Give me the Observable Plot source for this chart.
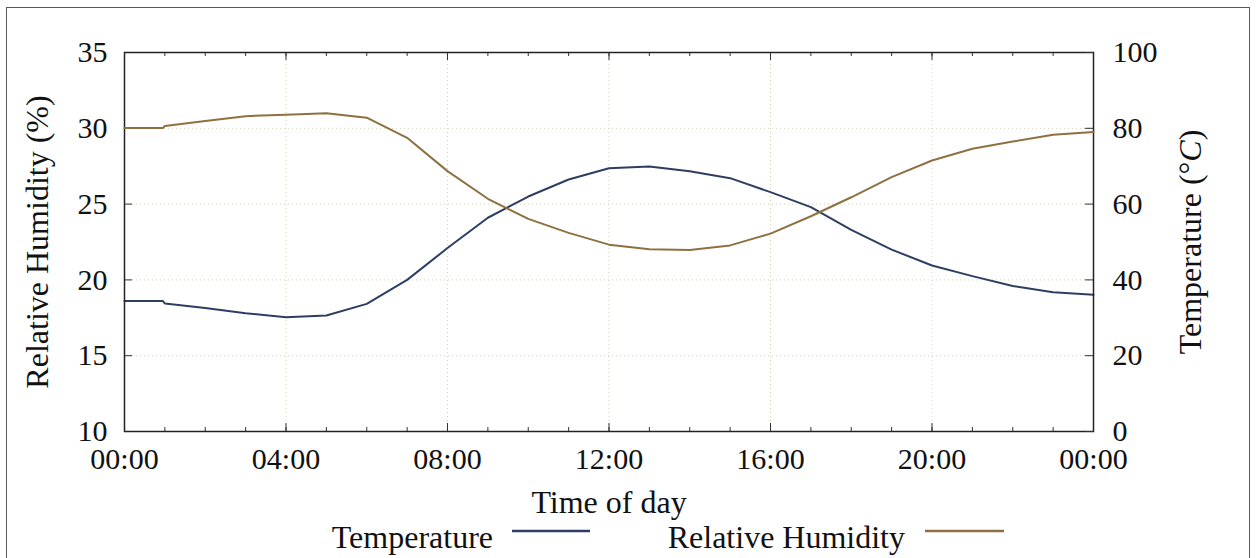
<!DOCTYPE html>
<html><head><meta charset="utf-8">
<script src="https://cdn.jsdelivr.net/npm/d3@7"></script>
<script src="https://cdn.jsdelivr.net/npm/@observablehq/plot@0.6"></script>
<style>
html,body{margin:0;padding:0;background:#fff;}
#wrap{position:relative;width:1256px;height:558px;overflow:hidden;}
#border{position:absolute;left:6px;top:7px;width:1244px;height:700px;border:1.5px solid #5a5a5a;box-sizing:border-box;}
#wrap svg{position:absolute;left:0;top:0;}
</style></head><body><div id="wrap"><div id="border"></div></div>
<script>
// ---- data ----
const hours       = [0, 0.95, 1, 2, 3, 4, 5, 6, 7, 8, 9, 10, 11, 12, 13, 14, 15, 16, 17, 18, 19, 20, 21, 22, 23, 24];
const temperature = [18.6, 18.6, 18.45, 18.15, 17.8, 17.54, 17.65, 18.42, 20.0, 22.1, 24.1, 25.5, 26.62, 27.37, 27.48, 27.17, 26.71, 25.79, 24.8, 23.3, 22.0, 20.95, 20.25, 19.6, 19.19, 19.02];
const humidity    = [80.1, 80.1, 80.6, 81.9, 83.2, 83.6, 84.0, 82.8, 77.5, 68.7, 61.4, 56.1, 52.4, 49.3, 48.1, 47.9, 49.1, 52.2, 56.8, 61.8, 67.1, 71.5, 74.6, 76.5, 78.3, 79.0];
const xTicks      = [0, 4, 8, 12, 16, 20, 24];
const xTickLabels = ["00:00", "04:00", "08:00", "12:00", "16:00", "20:00", "00:00"];
const hourTicks   = [0, 1, 2, 3, 4, 5, 6, 7, 8, 9, 10, 11, 12, 13, 14, 15, 16, 17, 18, 19, 20, 21, 22, 23, 24];
const yLeftTicks  = [10, 15, 20, 25, 30, 35];
const yRightTicks = [0, 20, 40, 60, 80, 100];
const seriesNames = ["Temperature", "Relative Humidity"];
const labels = {x: "Time of day", yLeft: "Relative Humidity (%)", yRight: "Temperature (°C)"};

const blue = "#2e3d62", brown = "#8e7140", gridColor = "#cfd1b6", tickColor = "#333";
const font = "'Liberation Serif', 'DejaVu Serif', serif";

const tempData = hours.map((h, i) => ({h, v: temperature[i]}));
const humData  = hours.map((h, i) => ({h, v: humidity[i]}));

const W = 1256, H = 515, mL = 124, mR = 163, mT = 52, mB = 84;
const innerW = W - mL - mR, innerH = H - mT - mB;
const common = {
  width: W, height: H, marginLeft: mL, marginRight: mR, marginTop: mT, marginBottom: mB,
  x: {domain: [0, 24]},
  style: {fontFamily: font, fontSize: "30px", color: "#111", background: "transparent", overflow: "visible"}
};

const plotA = Plot.plot({
  ...common,
  y: {domain: [10, 35]},
  marks: [
    Plot.gridX(xTicks, {stroke: gridColor, strokeOpacity: 1, strokeDasharray: "1,3"}),
    Plot.gridY(yLeftTicks, {stroke: gridColor, strokeOpacity: 1, strokeDasharray: "1,3"}),
    Plot.line(tempData, {x: "h", y: "v", stroke: blue, strokeWidth: 2}),
    Plot.ruleX(hourTicks, {x: d => d, insetTop: innerH - 4, stroke: tickColor}),
    Plot.ruleX(xTicks, {x: d => d, insetTop: innerH - 8, stroke: tickColor}),
    Plot.ruleX(hourTicks, {x: d => d, insetBottom: innerH - 4, stroke: tickColor}),
    Plot.ruleX(xTicks, {x: d => d, insetBottom: innerH - 8, stroke: tickColor}),
    Plot.ruleY(yLeftTicks, {y: d => d, insetRight: innerW - 8, stroke: tickColor}),
    Plot.frame({stroke: "#222", strokeWidth: 1.5}),
    Plot.axisX(xTicks, {tickSize: 0, tickPadding: 16, tickFormat: (d, i) => xTickLabels[i], label: null}),
    Plot.axisY(yLeftTicks, {anchor: "left", tickSize: 0, tickPadding: 17, label: null}),
    Plot.text([labels.yLeft], {frameAnchor: "left", rotate: -90, dx: -87, textAnchor: "middle", lineAnchor: "middle", fontSize: 32}),
    Plot.text([labels.x], {frameAnchor: "bottom", dy: 71, textAnchor: "middle", lineAnchor: "middle", fontSize: 32})
  ]
});

const plotB = Plot.plot({
  ...common,
  x: {domain: [0, 24], axis: null},
  y: {domain: [0, 100]},
  marks: [
    Plot.line(humData, {x: "h", y: "v", stroke: brown, strokeWidth: 2}),
    Plot.ruleY(yRightTicks, {y: d => d, insetLeft: innerW - 8, stroke: tickColor}),
    Plot.axisY(yRightTicks, {anchor: "right", tickSize: 0, tickPadding: 19, label: null}),
    Plot.text([labels.yRight], {frameAnchor: "right", rotate: -90, dx: 97, textAnchor: "middle", lineAnchor: "middle", fontSize: 32})
  ]
});

// italic C in the right label
d3.select(plotB).selectAll("text").filter(function () { return this.textContent === labels.yRight; })
  .each(function () {
    const t = d3.select(this);
    t.text("");
    t.append("tspan").text("Temperature (°");
    t.append("tspan").attr("font-style", "italic").text("C");
    t.append("tspan").text(")");
  });

const wrap = document.getElementById("wrap");
wrap.appendChild(plotA);
wrap.appendChild(plotB);

// legend below the chart
const leg = d3.create("svg").attr("width", W).attr("height", 558)
  .style("font-family", font).style("font-size", "32px");
const legItems = [
  {name: seriesNames[0], color: blue, textEnd: 493, x1: 512, x2: 590},
  {name: seriesNames[1], color: brown, textEnd: 905, x1: 925, x2: 1004}
];
legItems.forEach(d => {
  leg.append("text").attr("x", d.textEnd).attr("y", 548).attr("text-anchor", "end").attr("fill", "#111").text(d.name);
  leg.append("line").attr("x1", d.x1).attr("x2", d.x2).attr("y1", 531).attr("y2", 531)
    .attr("stroke", d.color).attr("stroke-width", 2.5);
});
wrap.appendChild(leg.node());
</script></body></html>
